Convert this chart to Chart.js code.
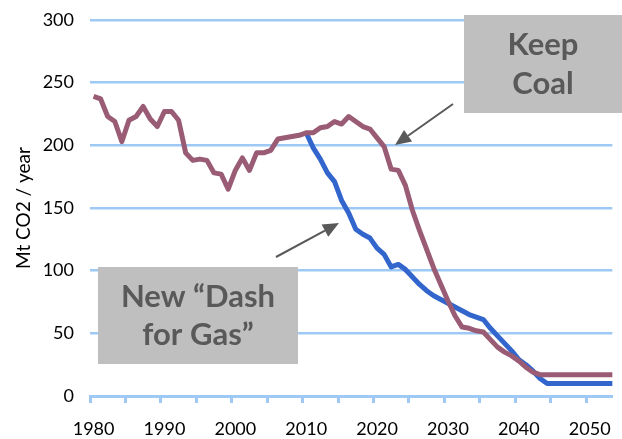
<!DOCTYPE html>
<html>
<head>
<meta charset="utf-8">
<script src="https://cdn.jsdelivr.net/npm/chart.js@4.4.1/dist/chart.umd.min.js"></script>
<style>
  html,body{margin:0;padding:0;background:#fff;}
  #wrap{width:622px;height:439px;position:relative;}
</style>
</head>
<body>
<div id="wrap"><canvas id="co2Chart"></canvas></div>
<script>
// ---- data (Mt CO2 / year, UK power sector) ----
const firstYear=1980;
const gasStartYear=2010;
const xLabelYears=[1980,1990,2000,2010,2020,2030,2040,2050];
const yTicks=[0,50,100,150,200,250,300];

// history + "Keep Coal" scenario, 1980..2054
const keepCoal=[
  239,237,223,219,203,220,223,231,221,215,
  227,227,220,194,188,189,188,178,177,165,
  180,190,180,194,194,196,205,206,207,208,
  210,210,214,215,219,217,223,219,215,213,
  206,199,181,180,168,148,132,117,102,89,
  76,64,55,54,52,51,45,39,35,32,
  28,23,19,17,17,17,17,17,17,17,
  17,17,17,17,17
];
// "New Dash for Gas" scenario, 2010..2054
const dashForGas=[
  210,198,189,178,171,156,146,133,129,126,
  118,113,103,105,101,95,89,84,80,77,
  74,71,68,65,63,61,54,48,42,36,
  29,25,20,14,10,10,10,10,10,10,
  10,10,10,10,10
];

const annotations=[
  {box:[464,15,158,98],lines:['Keep','Coal'],base:[55,94]},
  {box:[98,267,200,97],lines:['New \u201cDash','for Gas\u201d'],base:[307,345]}
];
const arrows=[
  {from:[453,104],to:[395,145]},
  {from:[276,257],to:[339,223]}
];

const GRID='#9ec9f5';
const FONT='Lato';

const toPoints=(vals,start)=>vals.map((v,i)=>({x:start+i,y:v}));

const calloutPlugin={
  id:'callouts',
  afterDatasetsDraw(chart){
    const ctx=chart.ctx;
    ctx.save();
    annotations.forEach(a=>{
      const [x,y,w,h]=a.box;
      ctx.fillStyle='#bfbfbf';
      ctx.fillRect(x,y,w,h);
      ctx.fillStyle='#595959';
      ctx.font='bold 31px '+FONT;
      ctx.textAlign='center';ctx.textBaseline='alphabetic';
      a.lines.forEach((t,i)=>ctx.fillText(t,x+w/2,a.base[i]));
    });
    arrows.forEach(ar=>{
      const [x1,y1]=ar.from,[x2,y2]=ar.to;
      const ang=Math.atan2(y2-y1,x2-x1),L=16,W=7;
      const bx=x2-L*Math.cos(ang),by=y2-L*Math.sin(ang);
      ctx.strokeStyle='#595959';ctx.lineWidth=2;
      ctx.beginPath();ctx.moveTo(x1,y1);ctx.lineTo(bx,by);ctx.stroke();
      ctx.fillStyle='#595959';
      ctx.beginPath();ctx.moveTo(x2,y2);
      ctx.lineTo(bx+W*Math.sin(ang),by-W*Math.cos(ang));
      ctx.lineTo(bx-W*Math.sin(ang),by+W*Math.cos(ang));
      ctx.closePath();ctx.fill();
    });
    ctx.restore();
  }
};

new Chart(document.getElementById('co2Chart').getContext('2d'),{
  type:'line',
  data:{datasets:[
    {label:'Keep Coal',data:toPoints(keepCoal,firstYear),borderColor:'#995c74',borderWidth:5,
     pointRadius:0,tension:0,borderJoinStyle:'round',order:0},
    {label:'New Dash for Gas',data:toPoints(dashForGas,gasStartYear),borderColor:'#3366cc',borderWidth:5,
     pointRadius:0,tension:0,borderJoinStyle:'round',order:1}
  ]},
  options:{
    responsive:true,maintainAspectRatio:false,animation:false,devicePixelRatio:1,
    layout:{padding:{top:0,left:0,right:0,bottom:0}},
    plugins:{legend:{display:false},tooltip:{enabled:false}},
    scales:{
      x:{type:'linear',min:1979.5,max:2053.2,
        afterBuildTicks:axis=>{
          const t=[];for(let v=1979.5;v<2053;v+=5)t.push({value:v});
          axis.ticks=t;
        },
        afterFit:axis=>{axis.height=43;},
        ticks:{autoSkip:false,maxRotation:0,labelOffset:3.6,padding:15,color:'#000',
          font:{family:FONT,size:18},
          callback:v=>xLabelYears.includes(v+0.5)?String(v+0.5):''},
        grid:{drawOnChartArea:false,drawTicks:true,tickLength:7,tickWidth:3,tickColor:GRID},
        border:{color:GRID,width:3}
      },
      y:{min:0,max:300,
        afterBuildTicks:axis=>{axis.ticks=yTicks.map(v=>({value:v}));},
        afterFit:axis=>{axis.width=90;axis.paddingTop=20;},
        ticks:{color:'#000',padding:16,font:{family:FONT,size:18}},
        grid:{color:GRID,lineWidth:2.5,drawTicks:false},
        border:{display:false},
        title:{display:true,text:'Mt CO2 / year',color:'#000',font:{family:FONT,size:19},padding:{top:12,bottom:4}}
      }
    }
  },
  plugins:[calloutPlugin]
});
</script>
</body>
</html>
